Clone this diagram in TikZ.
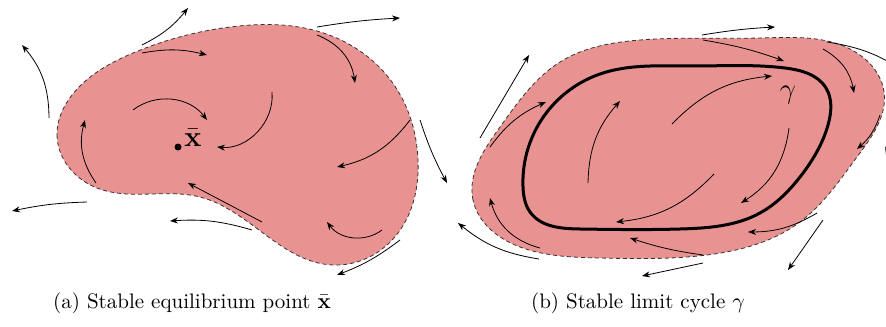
\documentclass[tikz,border=0pt]{standalone}
\usepackage{amsmath, amssymb, bm}
\usepackage{tikz}
\usetikzlibrary{arrows.meta,hobby}
\definecolor{basin}{RGB}{232,147,146}

\begin{document}
\begin{tikzpicture}[x=0.5pt,y=-0.5pt,
  flow/.style={-{Stealth[length=4pt,width=3pt]},line width=0.4pt},
  region/.style={fill=basin,draw=black!80,dashed,line width=0.4pt,dash pattern=on 2pt off 1.5pt}]
\useasboundingbox (0,0) rectangle (886,326);
% (a) equilibrium point
\draw[region,use Hobby shortcut,closed=true] (57,135) .. (97,188) .. (200,197) .. (333,265) .. (398,233) .. (418,160) .. (392,82) .. (317,31) .. (230,27) .. (133,53) .. (72,95);
\foreach \sx/\sy/\ex/\ey/\b in {142/45/188/8/-12, 317/27/400/18/3, 49/118/22/45/-20, 142/53/207/55/12, 317/35/355/83/30, 133/110/207/120/45, 272/92/217/147/50, 96/183/85/120/25, 410/120/337/167/20, 420/120/447/183/-5, 87/202/12/211/-5, 262/222/188/183/0, 252/230/170/221/-10, 382/230/327/222/45, 400/240/337/275/8}
  \draw[flow] (\sx,\sy) to[bend left=\b] (\ex,\ey);
\fill (178,147) circle (3.5);
\node[anchor=west,font=\Large,inner sep=1pt] (xbar) at (182,138) {$\bar{\mathbf{x}}$};
% (b) limit cycle
\draw[region,use Hobby shortcut,closed=true] (473,200) .. (500,127) .. (560,62) .. (640,40) .. (760,38) .. (857,53) .. (884,92) .. (857,157) .. (800,222) .. (707,255) .. (600,258) .. (520,247);
\draw[line width=1.5pt,use Hobby shortcut,closed=true] (523,187) .. (547,112) .. (600,74) .. (690,66) .. (785,68) .. (826,88) .. (828,125) .. (800,177) .. (760,213) .. (680,229) .. (580,229) .. (530,212);
\node[font=\Large] (gamma) at (788,95) {$\gamma$};
\foreach \sx/\sy/\ex/\ey/\b in {702/35/775/27/3, 703/40/784/61/5, 827/42/905/72/12, 823/49/854/93/25, 880/115/857/149/15, 893/115/886/155/5, 480/138/529/55/0, 490/147/546/102/15, 588/183/620/101/20, 672/124/772/76/20, 789/128/741/203/25, 714/174/616/222/20, 540/248/490/198/30, 539/259/458/223/15, 703/255/630/238/5, 703/263/642/276/0, 817/213/748/232/15, 823/220/788/270/0}
  \draw[flow] (\sx,\sy) to[bend left=\b] (\ex,\ey);
% captions
\node[font=\fontsize{10.5}{12}\selectfont] (capa) at (192,303) {(a) Stable equilibrium point $\bar{\mathbf{x}}$};
\node[font=\fontsize{10.5}{12}\selectfont] (capb) at (638,303) {(b) Stable limit cycle $\gamma$};
\end{tikzpicture}
\end{document}
